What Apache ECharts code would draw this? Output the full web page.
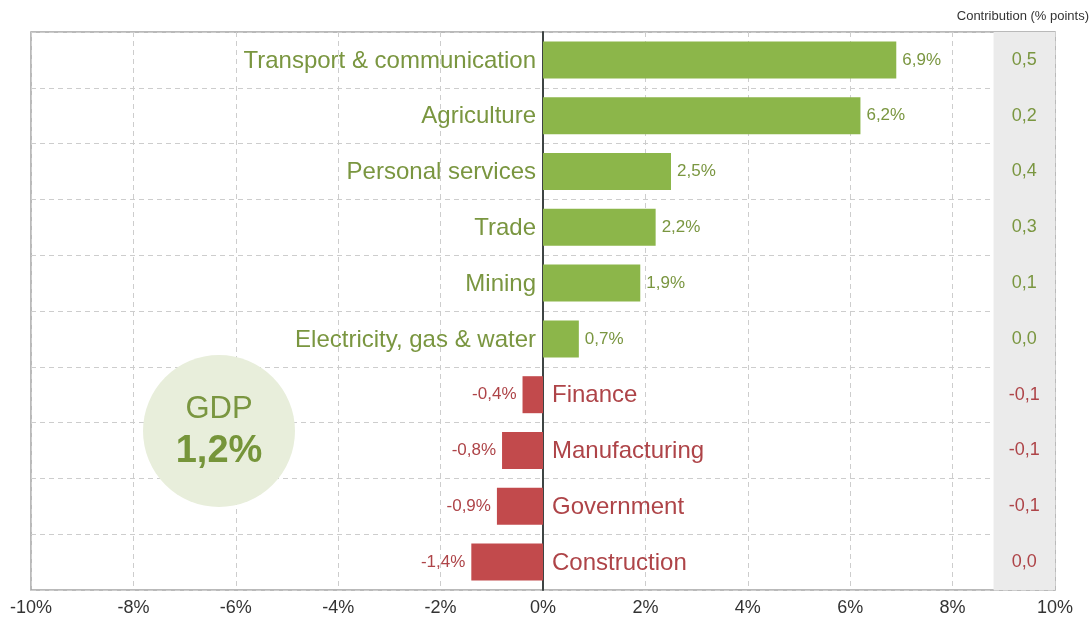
<!DOCTYPE html>
<html>
<head>
<meta charset="utf-8">
<script src="https://cdn.jsdelivr.net/npm/echarts@6/dist/echarts.min.js"></script>
<style>
  html, body { margin: 0; padding: 0; background: #fff; }
  #chart { width: 1092px; height: 619px; }
</style>
</head>
<body>
<div id="chart"></div>
<script>
// Sector growth and contribution to GDP growth
const sectors = [
  'Transport & communication', 'Agriculture', 'Personal services', 'Trade',
  'Mining', 'Electricity, gas & water', 'Finance', 'Manufacturing',
  'Government', 'Construction'
];
const growth = [6.9, 6.2, 2.5, 2.2, 1.9, 0.7, -0.4, -0.8, -0.9, -1.4];
const contribution = [0.5, 0.2, 0.4, 0.3, 0.1, 0.0, -0.1, -0.1, -0.1, 0.0];
const xTicks = [-10, -8, -6, -4, -2, 0, 2, 4, 6, 8, 10];
const gdpGrowth = 1.2;
const contribColumnX = 9.4;

const GREEN = '#8cb64a', GREEN_TXT = '#7a9640';
const RED = '#c24a4c', RED_TXT = '#ae4448';
const FONT = '"Liberation Sans", Arial, sans-serif';

const comma = (v, d) => v.toFixed(d).replace('.', ',');

const chart = echarts.init(document.getElementById('chart'), null, { renderer: 'canvas' });

chart.setOption({
  animation: false,
  textStyle: { fontFamily: FONT },
  grid: {
    left: 31, right: 37, top: 32, bottom: 29,
    show: true, borderColor: '#a3a3a3', borderWidth: 1.5
  },
  xAxis: {
    type: 'value',
    min: xTicks[0], max: xTicks[xTicks.length - 1], interval: 2,
    axisLine: { show: false },
    axisTick: { show: false },
    axisLabel: {
      formatter: v => v + '%', color: '#333', fontSize: 18, margin: 9,
      fontFamily: FONT
    },
    splitLine: { show: true, lineStyle: { color: '#cdcdcd', type: [5, 4], width: 1 } }
  },
  yAxis: {
    type: 'category',
    data: sectors,
    inverse: true,
    axisLine: { show: true, onZero: true, lineStyle: { color: '#3e4443', width: 2 } },
    axisTick: { show: false },
    axisLabel: { show: false },
    splitLine: { show: true, lineStyle: { color: '#cdcdcd', type: [5, 4], width: 1 } }
  },
  series: [
    {
      // contribution column background
      type: 'bar',
      data: [],
      silent: true,
      z: 0,
      markArea: {
        silent: true,
        itemStyle: { color: '#ebebeb' },
        data: [[{ xAxis: 8.8 }, { xAxis: 10 }]]
      }
    },
    {
      type: 'bar',
      barWidth: 37,
      z: 3,
      data: growth.map(v => ({
        value: v,
        itemStyle: { color: v >= 0 ? GREEN : RED },
        label: {
          show: true,
          position: v >= 0 ? 'right' : 'left',
          distance: 6,
          formatter: comma(v, 1) + '%',
          color: v >= 0 ? GREEN_TXT : RED_TXT,
          fontSize: 17,
          fontFamily: FONT
        }
      }))
    },
    {
      // sector names beside the zero line
      type: 'scatter',
      symbolSize: 0,
      z: 4,
      itemStyle: { opacity: 1 },
      data: sectors.map((s, i) => ({
        value: [0, s],
        label: {
          show: true,
          position: growth[i] >= 0 ? 'left' : 'right',
          distance: growth[i] >= 0 ? 7 : 9,
          offset: [0, 1],
          formatter: s,
          color: growth[i] >= 0 ? GREEN_TXT : RED_TXT,
          fontSize: 24,
          fontFamily: FONT
        }
      }))
    },
    {
      // contribution values
      type: 'scatter',
      symbolSize: 0,
      z: 4,
      itemStyle: { opacity: 1 },
      data: sectors.map((s, i) => ({
        value: [contribColumnX, s],
        label: {
          show: true,
          position: 'inside',
          formatter: comma(contribution[i], 1),
          color: growth[i] >= 0 ? GREEN_TXT : RED_TXT,
          fontSize: 18,
          fontFamily: FONT
        }
      }))
    }
  ],
  graphic: [
    {
      type: 'text',
      right: 3, top: 10,
      style: { text: 'Contribution (% points)', fill: '#333', fontSize: 13, fontFamily: FONT }
    },
    {
      type: 'circle',
      shape: { cx: 219, cy: 431, r: 76 },
      style: { fill: '#e8eedb' },
      z: 5
    },
    {
      type: 'text',
      x: 219, y: 409,
      style: {
        text: 'GDP', fill: GREEN_TXT, fontSize: 31, fontFamily: FONT,
        align: 'center', verticalAlign: 'middle'
      },
      z: 6
    },
    {
      type: 'text',
      x: 219, y: 452,
      style: {
        text: comma(gdpGrowth, 1) + '%', fill: '#76953a', fontSize: 38,
        fontWeight: 'bold', fontFamily: FONT, align: 'center', verticalAlign: 'middle'
      },
      z: 6
    }
  ]
});
</script>
</body>
</html>
